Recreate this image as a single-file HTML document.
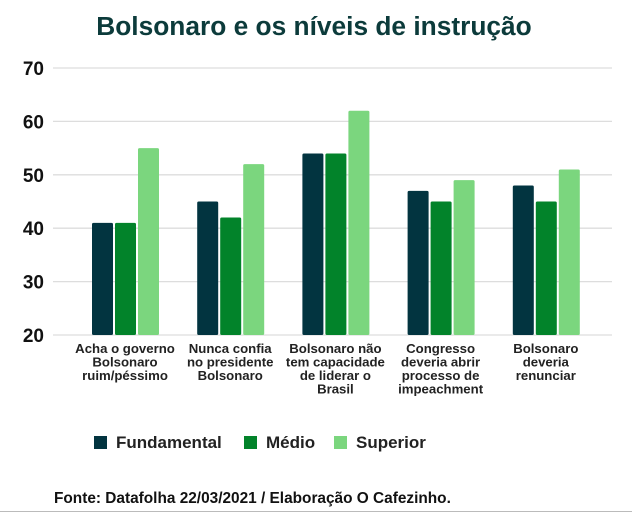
<!DOCTYPE html>
<html><head><meta charset="utf-8"><style>
body{margin:0;background:#fff;font-family:"Liberation Sans",sans-serif}
#wrap{position:relative;width:632px;height:514px;overflow:hidden;background:#fff}
</style></head><body>
<div id="wrap">
<svg id="svg" width="632" height="514" xmlns="http://www.w3.org/2000/svg">
<text x="314" y="35" text-anchor="middle" font-size="26.3" font-weight="bold" fill="#0c3b3b">Bolsonaro e os níveis de instrução</text>
<g id="grid"></g><g id="bars"></g><g id="xlabels"></g>
<g>
<rect x="94" y="436" width="13" height="13" fill="#023440"/>
<text x="116" y="448" font-size="17" font-weight="bold" fill="#222">Fundamental</text>
<rect x="244" y="436" width="13" height="13" fill="#02832a"/>
<text x="266" y="448" font-size="17" font-weight="bold" fill="#222">Médio</text>
<rect x="334" y="436" width="13" height="13" fill="#7bd67e"/>
<text x="356" y="448" font-size="17" font-weight="bold" fill="#222">Superior</text>
</g>
<text x="54" y="503" font-size="15.4" font-weight="bold" fill="#111">Fonte: Datafolha 22/03/2021 / Elaboração O Cafezinho.</text>
<line x1="0" y1="511.5" x2="632" y2="511.5" stroke="#bbb"/>
</svg>
</div>
<script>
const categories=[["Acha o governo","Bolsonaro","ruim/péssimo"],["Nunca confia","no presidente","Bolsonaro"],["Bolsonaro não","tem capacidade","de liderar o","Brasil"],["Congresso","deveria abrir","processo de","impeachment"],["Bolsonaro","deveria","renunciar"]];
const fundamental=[41,45,54,47,48];
const medio=[41,42,54,45,45];
const superior=[55,52,62,49,51];
const yTicks=[20,30,40,50,60,70];
const NS="http://www.w3.org/2000/svg";
const y0=335,pxPer=5.34,yMin=20;
function y(v){return y0-(v-yMin)*pxPer;}
function gx(i){return 92+i*105.2;}
function mk(t,a,p){const e=document.createElementNS(NS,t);for(const k in a)e.setAttribute(k,a[k]);p.appendChild(e);return e;}
const grid=document.getElementById('grid');
yTicks.forEach(t=>{
 const l=mk('line',{x1:53,x2:612,y1:y(t),y2:y(t),stroke:'#ddd','stroke-width':1.3},grid);
 
 
 const tx=mk('text',{x:44,y:y(t)+7,'text-anchor':'end','font-size':19,'font-weight':'bold',fill:'#111'},grid);
 tx.textContent=t;
 
 
});
const bars=document.getElementById('bars');
const series=[[fundamental,'#023440','fundamental'],[medio,'#02832a','medio'],[superior,'#7bd67e','superior']];
categories.forEach((c,i)=>{
 series.forEach((s,j)=>{
  const v=s[0][i];
  const r=mk('rect',{x:gx(i)+j*23,y:y(v),width:21,height:y0-y(v),fill:s[1],rx:1.5},bars);
  
  
 });
 const t=mk('text',{x:gx(i)+33,'text-anchor':'middle','font-size':13.2,'font-weight':'bold',fill:'#222'},document.getElementById('xlabels'));
 
 
 c.forEach((line,k)=>{const ts=mk('tspan',{x:gx(i)+33,y:353+k*13.5},t);ts.textContent=line;});
});
</script>
</body></html>
